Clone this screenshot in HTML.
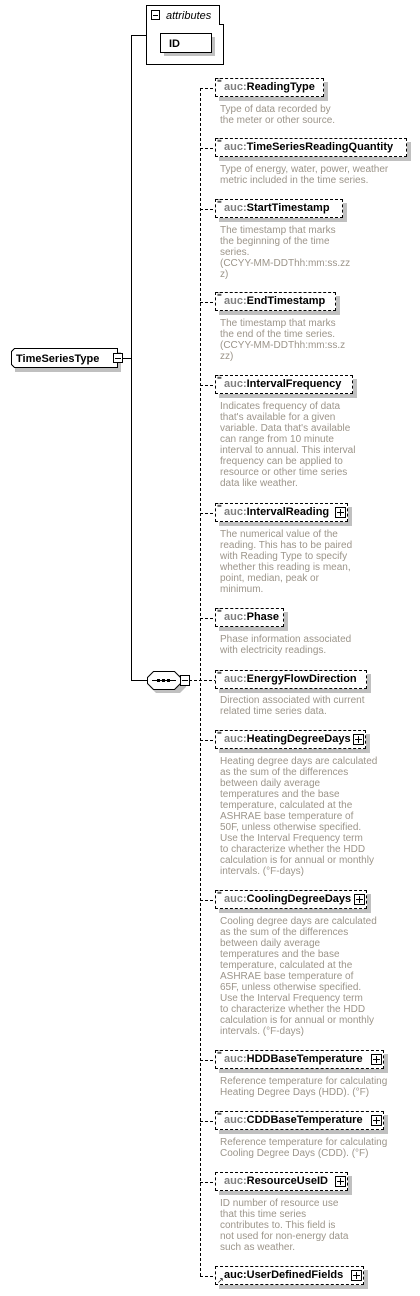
<!DOCTYPE html>
<html><head><meta charset="utf-8"><style>
body{margin:0;width:420px;height:1296px;background:#fff;position:relative;overflow:hidden;font-family:"Liberation Sans",Arial,sans-serif}
.el{position:absolute;left:215px;height:17px;border:1px dashed #000;background:#fff;box-shadow:4px 4px 0 #c0c0c0;font-weight:bold;font-size:11px;line-height:17px;padding-left:8px;box-sizing:content-box;white-space:nowrap}
.el .p{color:#808080}
.el i.m{position:absolute;left:1px;top:-2px;font-style:normal;font-size:8px;line-height:8px;font-weight:normal}
.pl{position:absolute;right:1px;top:3px;width:9px;height:9px;border:1px solid #000;background:#fff}
.pl:before{content:"";position:absolute;left:1px;top:4px;width:7px;height:1px;background:#000}
.pl:after{content:"";position:absolute;left:4px;top:1px;width:1px;height:7px;background:#000}
.d{position:absolute;left:220px;font-size:10px;line-height:11px;color:#9c958a;white-space:nowrap}
</style></head><body>
<svg width="420" height="1296" style="position:absolute;left:0;top:0">
<g stroke="#000" fill="none" shape-rendering="crispEdges">
<line x1="122" y1="358.5" x2="131.5" y2="358.5"/>
<line x1="131.5" y1="35.5" x2="131.5" y2="680.5"/>
<line x1="131" y1="35.5" x2="146" y2="35.5"/>
<line x1="131" y1="680.5" x2="147" y2="680.5"/>
<g stroke-dasharray="3,2">
<line x1="200.5" y1="88" x2="200.5" y2="1276"/>
<line x1="189" y1="680.5" x2="215" y2="680.5"/>
<line x1="200" y1="88.5" x2="215" y2="88.5"/>
<line x1="200" y1="148.5" x2="215" y2="148.5"/>
<line x1="200" y1="209.5" x2="215" y2="209.5"/>
<line x1="200" y1="302.5" x2="215" y2="302.5"/>
<line x1="200" y1="385.5" x2="215" y2="385.5"/>
<line x1="200" y1="513.5" x2="215" y2="513.5"/>
<line x1="200" y1="618.5" x2="215" y2="618.5"/>
<line x1="200" y1="740.5" x2="215" y2="740.5"/>
<line x1="200" y1="900.5" x2="215" y2="900.5"/>
<line x1="200" y1="1060.5" x2="215" y2="1060.5"/>
<line x1="200" y1="1121.5" x2="215" y2="1121.5"/>
<line x1="200" y1="1182.5" x2="215" y2="1182.5"/>
<line x1="200" y1="1276.5" x2="215" y2="1276.5"/>
</g>
</g>
<path d="M146.5 5.5 H219.5 V24.5 H223.5 V64.5 H146.5 Z" fill="#fff" stroke="#000" shape-rendering="crispEdges"/>
<rect x="164" y="37" width="51" height="19" fill="#c0c0c0"/>
<rect x="160.5" y="33.5" width="51" height="19" fill="#fff" stroke="#000" shape-rendering="crispEdges"/>
<text x="169" y="47" font-size="11" font-weight="bold" font-family="Liberation Sans,sans-serif">ID</text>
<rect x="151.5" y="10.5" width="8" height="9" fill="#fff" stroke="#000" shape-rendering="crispEdges"/>
<line x1="153" y1="15.5" x2="158" y2="15.5" stroke="#000" shape-rendering="crispEdges"/>
<text x="166" y="19" font-size="11" font-style="italic" font-family="Liberation Sans,sans-serif">attributes</text>
<path d="M15 352 H121 V372 H15 Z" fill="#c0c0c0"/>
<path d="M14.5 348.5 H117.5 V367.5 H14.5 L11.5 364.5 V351.5 Z" fill="#fff" stroke="#000" shape-rendering="crispEdges"/>
<text x="16" y="362" font-size="11" font-weight="bold" font-family="Liberation Sans,sans-serif">TimeSeriesType</text>
<rect x="113.5" y="353.5" width="9" height="9" fill="#fff" stroke="#000" shape-rendering="crispEdges"/>
<line x1="115" y1="358.5" x2="121" y2="358.5" stroke="#000" shape-rendering="crispEdges"/>
<path d="M156 675 H180 L186 681 V687 L180 693 H156 L150 687 Z" fill="#c0c0c0"/>
<path d="M153.5 671.5 H174.5 L180.5 677.5 V683.5 L174.5 689.5 H153.5 L147.5 683.5 V677.5 Z" fill="#fff" stroke="#000"/>
<line x1="152" y1="680.5" x2="176" y2="680.5" stroke="#000"/>
<rect x="157" y="679" width="3" height="3" fill="#000"/><rect x="162" y="679" width="3" height="3" fill="#000"/><rect x="167" y="679" width="3" height="3" fill="#000"/>
<rect x="180.5" y="675.5" width="9" height="10" fill="#fff" stroke="#000" shape-rendering="crispEdges"/>
<line x1="182" y1="680.5" x2="188" y2="680.5" stroke="#000" shape-rendering="crispEdges"/>
</svg>

<div class="el" style="top:78px;width:99px"><i class="m">≡</i><span class="p">auc:</span>ReadingType</div>
<div class="d" style="top:104px">Type of data recorded by<br>the meter or other source.</div>

<div class="el" style="top:138px;width:182px"><i class="m">≡</i><span class="p">auc:</span>TimeSeriesReadingQuantity</div>
<div class="d" style="top:164px">Type of energy, water, power, weather<br>metric included in the time series.</div>

<div class="el" style="top:199px;width:118px"><i class="m">≡</i><span class="p">auc:</span>StartTimestamp</div>
<div class="d" style="top:225px">The timestamp that marks<br>the beginning of the time<br>series.<br>(CCYY-MM-DDThh:mm:ss.zz<br>z)</div>

<div class="el" style="top:292px;width:111px"><i class="m">≡</i><span class="p">auc:</span>EndTimestamp</div>
<div class="d" style="top:318px">The timestamp that marks<br>the end of the time series.<br>(CCYY-MM-DDThh:mm:ss.z<br>zz)</div>

<div class="el" style="top:375px;width:128px"><i class="m">≡</i><span class="p">auc:</span>IntervalFrequency</div>
<div class="d" style="top:401px">Indicates frequency of data<br>that's available for a given<br>variable. Data that's available<br>can range from 10 minute<br>interval to annual. This interval<br>frequency can be applied to<br>resource or other time series<br>data like weather.</div>

<div class="el" style="top:503px;width:123px"><i class="m">≡</i><span class="p">auc:</span>IntervalReading<span class="pl"></span></div>
<div class="d" style="top:529px">The numerical value of the<br>reading. This has to be paired<br>with Reading Type to specify<br>whether this reading is mean,<br>point, median, peak or<br>minimum.</div>

<div class="el" style="top:608px;width:59px"><i class="m">≡</i><span class="p">auc:</span>Phase</div>
<div class="d" style="top:634px">Phase information associated<br>with electricity readings.</div>

<div class="el" style="top:670px;width:142px"><i class="m">≡</i><span class="p">auc:</span>EnergyFlowDirection</div>
<div class="d" style="top:695px">Direction associated with current<br>related time series data.</div>

<div class="el" style="top:730px;width:141px"><i class="m">≡</i><span class="p">auc:</span>HeatingDegreeDays<span class="pl"></span></div>
<div class="d" style="top:756px">Heating degree days are calculated<br>as the sum of the differences<br>between daily average<br>temperatures and the base<br>temperature, calculated at the<br>ASHRAE base temperature of<br>50F, unless otherwise specified.<br>Use the Interval Frequency term<br>to characterize whether the HDD<br>calculation is for annual or monthly<br>intervals. (°F-days)</div>

<div class="el" style="top:890px;width:142px"><i class="m">≡</i><span class="p">auc:</span>CoolingDegreeDays<span class="pl"></span></div>
<div class="d" style="top:916px">Cooling degree days are calculated<br>as the sum of the differences<br>between daily average<br>temperatures and the base<br>temperature, calculated at the<br>ASHRAE base temperature of<br>65F, unless otherwise specified.<br>Use the Interval Frequency term<br>to characterize whether the HDD<br>calculation is for annual or monthly<br>intervals. (°F-days)</div>

<div class="el" style="top:1050px;width:159px"><i class="m">≡</i><span class="p">auc:</span>HDDBaseTemperature<span class="pl"></span></div>
<div class="d" style="top:1076px">Reference temperature for calculating<br>Heating Degree Days (HDD). (°F)</div>

<div class="el" style="top:1111px;width:159px"><i class="m">≡</i><span class="p">auc:</span>CDDBaseTemperature<span class="pl"></span></div>
<div class="d" style="top:1137px">Reference temperature for calculating<br>Cooling Degree Days (CDD). (°F)</div>

<div class="el" style="top:1172px;width:123px"><span class="p">auc:</span>ResourceUseID<span class="pl"></span></div>
<div class="d" style="top:1198px">ID number of resource use<br>that this time series<br>contributes to. This field is<br>not used for non-energy data<br>such as weather.</div>

<div class="el" style="top:1266px;width:139px"><i class="m" style="top:10px">↗</i><span class="p" style="color:#000">auc:</span>UserDefinedFields<span class="pl"></span></div>
</body></html>
